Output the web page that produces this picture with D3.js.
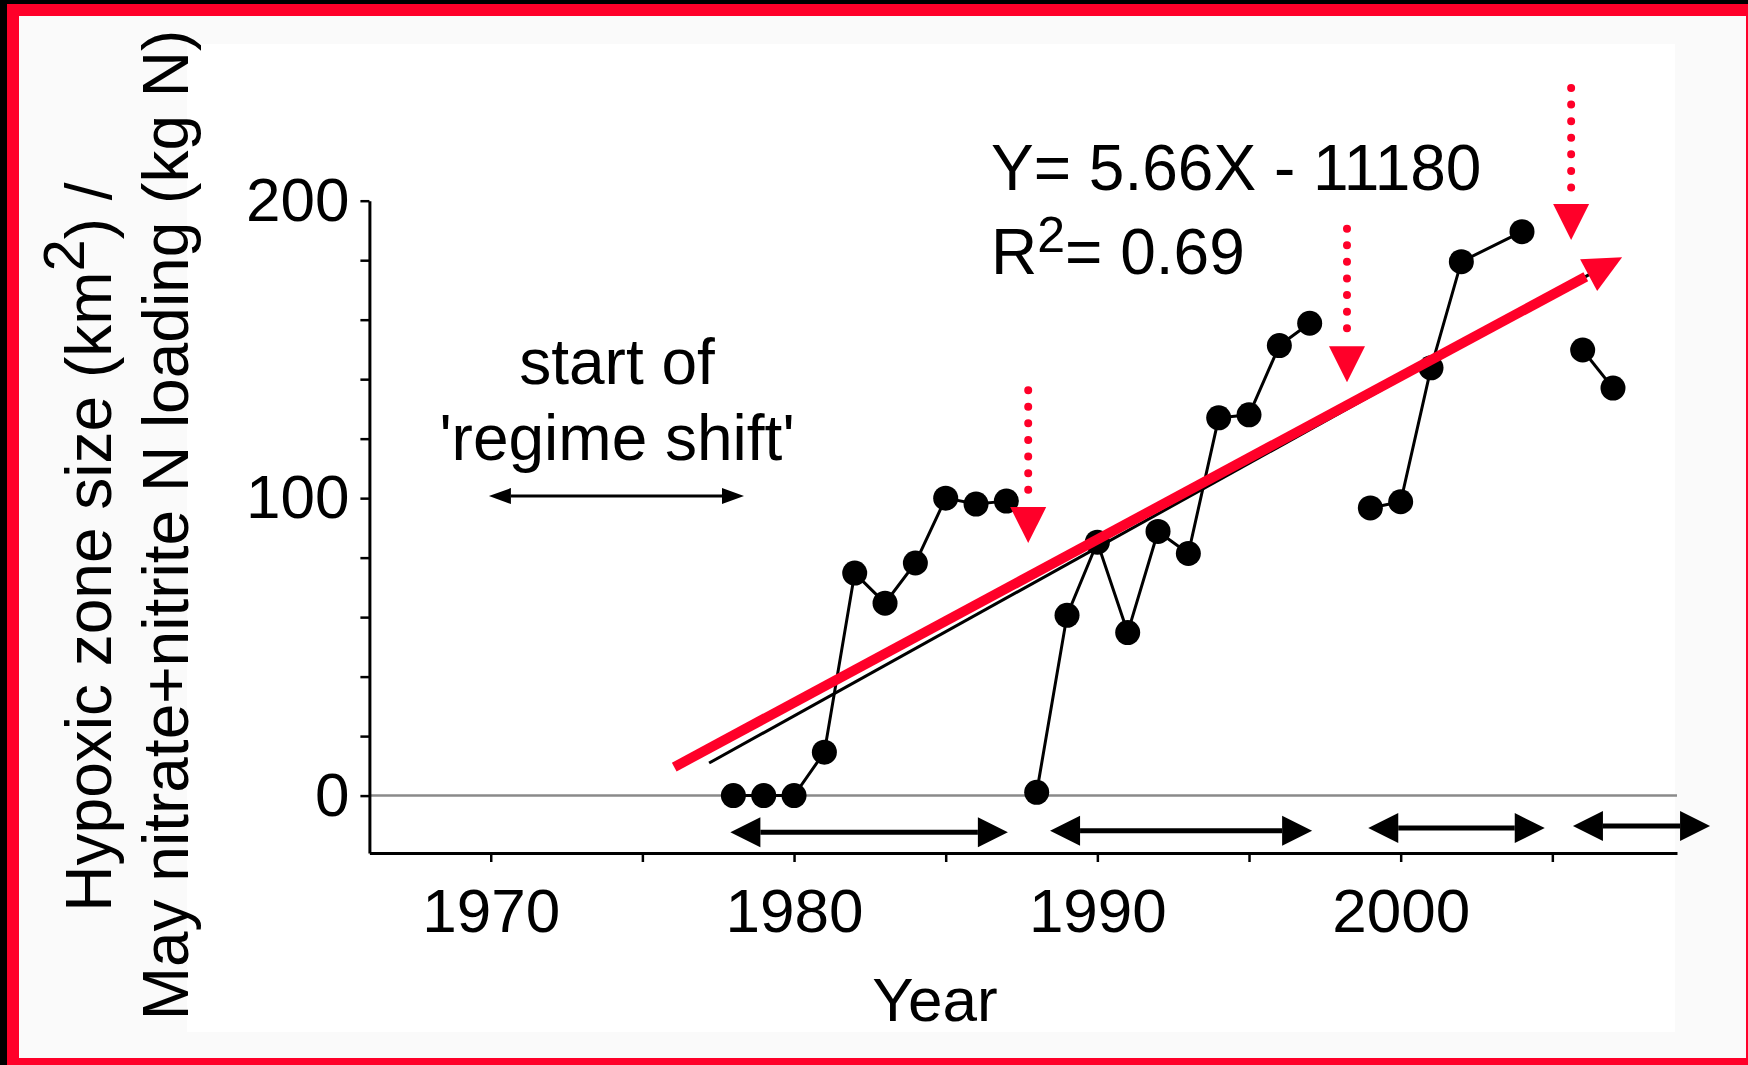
<!DOCTYPE html>
<html>
<head>
<meta charset="utf-8">
<script src="https://cdn.jsdelivr.net/npm/d3@7"></script>
<style>
  html, body { margin: 0; padding: 0; background: #000; }
  svg { display: block; }
  text { font-family: "Liberation Sans", Arial, sans-serif; fill: #000; }
</style>
</head>
<body>
<svg id="chart" width="1748" height="1065"></svg>
<script>
// hypoxic zone segments (year, value)
var seg1Years = [1978, 1979, 1980, 1981, 1982, 1983, 1984, 1985, 1986, 1987];
var seg1Values = [0, 0, 0, 14.6, 74.8, 64.7, 78.2, 100, 98, 99];
var seg2Years = [1988, 1989, 1990, 1991, 1992, 1993, 1994, 1995, 1996, 1997];
var seg2Values = [1.1, 60.6, 85.2, 54.8, 88.8, 81.4, 127, 128, 151.3, 158.8];
var seg3Years = [1999, 2000, 2001, 2002, 2004];
var seg3Values = [96.7, 98.8, 143.8, 179.5, 189.6];
var seg4Years = [2006, 2007];
var seg4Values = [149.8, 137];

// regression Y = 5.66X - 11180
var fitSlope = 5.66;
var fitIntercept = -11180;
var fitYears = [1977.2, 2007];

// red trend arrow [year, value]
var trendStart = [1976.05, 9.6];
var trendEnd = [2007.3, 181];

// red dotted arrows (shift points)
var shiftYears = [1987.72, 1998.23, 2005.62];
var shiftTop = [136.3, 190.6, 237.9];
var shiftTip = [84.9, 139, 186.8];

// black period arrows under the data
var periodStart = [1977.9, 1988.44, 1998.93, 2005.68];
var periodEnd = [1987.05, 1997.08, 2004.75, 2010.2];
var periodLevel = [-12.3, -11.8, -10.9, -10.2];

// 'regime shift' arrow
var regimeYears = [1969.94, 1978.35];
var regimeLevel = 100.7;

var yTicks = d3.range(0, 201, 20);
var xTicks = d3.range(1970, 2006, 5);

var red = "#ff0029";
var svg = d3.select("#chart");

// frame
svg.append("rect").attr("x", 0).attr("y", 0).attr("width", 1748).attr("height", 1065).attr("fill", "#000");
svg.append("rect").attr("x", 7).attr("y", 4).attr("width", 1741).attr("height", 1061).attr("fill", red);
svg.append("rect").attr("x", 19).attr("y", 16).attr("width", 1727).attr("height", 1042).attr("fill", "#fafafa");
svg.append("rect").attr("x", 187).attr("y", 44).attr("width", 1488).attr("height", 988).attr("fill", "#fff");

var x = d3.scaleLinear().domain([1966, 2009.11]).range([369.4, 1677]);
var y = d3.scaleLinear().domain([-19.3, 200]).range([853, 200.7]);

// zero line
svg.append("line")
    .attr("x1", x(1966)).attr("x2", x(2009.11))
    .attr("y1", y(0)).attr("y2", y(0))
    .attr("stroke", "#8a8a8a").attr("stroke-width", 2.5);

// axes
var yAxis = d3.axisLeft(y).tickValues(yTicks).tickSize(9).tickSizeOuter(0).tickPadding(11)
    .tickFormat(d => d % 100 === 0 ? d : "");
var xAxis = d3.axisBottom(x).tickValues(xTicks).tickSize(9).tickSizeOuter(0).tickPadding(26)
    .tickFormat(d => d % 10 === 0 ? d : "");

var gy = svg.append("g").attr("transform", `translate(${x(1966)},0)`).call(yAxis);
var gx = svg.append("g").attr("transform", `translate(0,${y(-19.3)})`).call(xAxis);
[gy, gx].forEach(g => {
    g.select(".domain").attr("stroke", "#000").attr("stroke-width", 3);
    g.selectAll(".tick line").attr("stroke", "#000").attr("stroke-width", 2.5);
    g.selectAll(".tick text").attr("font-size", 62).attr("fill", "#000")
        .attr("font-family", '"Liberation Sans", Arial, sans-serif');
});

// arrow helper: draws a triangle head at tip, pointing from "from" to "tip"
function head(g, from, tip, len, half, color) {
    var dx = tip[0] - from[0], dy = tip[1] - from[1];
    var L = Math.sqrt(dx * dx + dy * dy);
    var ux = dx / L, uy = dy / L;
    var bx = tip[0] - ux * len, by = tip[1] - uy * len;
    g.append("path")
        .attr("d", `M${tip[0]},${tip[1]}L${bx - uy * half},${by + ux * half}L${bx + uy * half},${by - ux * half}Z`)
        .attr("fill", color);
    return [bx, by];
}

// period arrows
var pg = svg.append("g");
periodStart.forEach((s, i) => {
    var a = [x(s), y(periodLevel[i])], b = [x(periodEnd[i]), y(periodLevel[i])];
    var ba = head(pg, b, a, 30, 15, "#000");
    var bb = head(pg, a, b, 30, 15, "#000");
    pg.append("line").attr("x1", ba[0]).attr("y1", ba[1]).attr("x2", bb[0]).attr("y2", bb[1])
        .attr("stroke", "#000").attr("stroke-width", 5);
});

// regime shift arrow
var ra = [x(regimeYears[0]), y(regimeLevel)], rb = [x(regimeYears[1]), y(regimeLevel)];
var rba = head(svg, rb, ra, 22, 8, "#000");
var rbb = head(svg, ra, rb, 22, 8, "#000");
svg.append("line").attr("x1", rba[0]).attr("y1", rba[1]).attr("x2", rbb[0]).attr("y2", rbb[1])
    .attr("stroke", "#000").attr("stroke-width", 3);

// regression line (black)
svg.append("line")
    .attr("x1", x(fitYears[0])).attr("y1", y(fitSlope * fitYears[0] + fitIntercept))
    .attr("x2", x(fitYears[1])).attr("y2", y(fitSlope * fitYears[1] + fitIntercept))
    .attr("stroke", "#000").attr("stroke-width", 3);

// data segments
var line = d3.line().x(d => x(d[0])).y(d => y(d[1]));
var segments = [
    d3.zip(seg1Years, seg1Values),
    d3.zip(seg2Years, seg2Values),
    d3.zip(seg3Years, seg3Values),
    d3.zip(seg4Years, seg4Values)
];
svg.selectAll(".seg")
    .data(segments)
    .enter()
    .append("path")
    .attr("class", "seg")
    .attr("d", line)
    .attr("fill", "none")
    .attr("stroke", "#000")
    .attr("stroke-width", 3);

svg.selectAll(".dot")
    .data(segments.flat())
    .enter()
    .append("circle")
    .attr("class", "dot")
    .attr("cx", d => x(d[0]))
    .attr("cy", d => y(d[1]))
    .attr("r", 12.5)
    .attr("fill", "#000");

// red trend arrow
var ts = [x(trendStart[0]), y(trendStart[1])], te = [x(trendEnd[0]), y(trendEnd[1])];
var tb = head(svg, ts, te, 38, 18, red);
svg.append("line").attr("x1", ts[0]).attr("y1", ts[1]).attr("x2", tb[0] - (te[0] - ts[0]) * 0.003).attr("y2", tb[1] - (te[1] - ts[1]) * 0.003)
    .attr("stroke", red).attr("stroke-width", 10);

// red dotted arrows
shiftYears.forEach((yr, i) => {
    var top = [x(yr), y(shiftTop[i])], tip = [x(yr), y(shiftTip[i])];
    var b = head(svg, top, tip, 36, 18, red);
    svg.append("line").attr("x1", top[0]).attr("y1", top[1]).attr("x2", b[0]).attr("y2", b[1] - 4)
        .attr("stroke", red).attr("stroke-width", 8)
        .attr("stroke-linecap", "round").attr("stroke-dasharray", "0 16.6");
});

// annotations
svg.append("text").attr("x", 991).attr("y", 190).attr("font-size", 64).text("Y= 5.66X - 11180");
var r2 = svg.append("text").attr("x", 991).attr("y", 274).attr("font-size", 64);
r2.append("tspan").text("R");
r2.append("tspan").attr("font-size", 50).attr("dy", -22).text("2");
r2.append("tspan").attr("dy", 22).text("= 0.69");

svg.append("text").attr("x", 617).attr("y", 384.4).attr("font-size", 64).attr("text-anchor", "middle").text("start of");
svg.append("text").attr("x", 617).attr("y", 460).attr("font-size", 64).attr("text-anchor", "middle").text("'regime shift'");

svg.append("text").attr("x", 935).attr("y", 1021).attr("font-size", 62).attr("text-anchor", "middle").text("Year");

var t1 = svg.append("text").attr("transform", "translate(111,547) rotate(-90)")
    .attr("font-size", 64).attr("text-anchor", "middle");
t1.append("tspan").text("Hypoxic zone size (km");
t1.append("tspan").attr("font-size", 58).attr("dy", -27).text("2");
t1.append("tspan").attr("dy", 27).text(") /");

svg.append("text").attr("transform", "translate(187.5,525) rotate(-90)")
    .attr("font-size", 64).attr("text-anchor", "middle")
    .text("May nitrate+nitrite N loading (kg N)");
</script>
</body>
</html>
